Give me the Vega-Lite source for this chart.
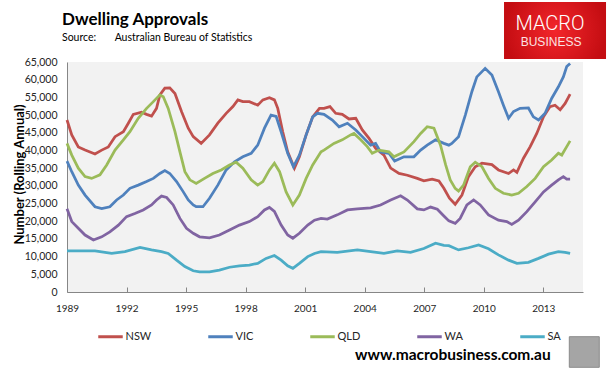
{
  "$schema": "https://vega.github.io/schema/vega-lite/v6.json",
  "width": 516,
  "height": 230,
  "autosize": {"type": "none"},
  "padding": {"left": 67, "top": 62, "right": 33, "bottom": 84},
  "background": "#ffffff",
  "config": {"view": {"fill": "#f2f2f2", "stroke": null}},
  "resolve": {"axis": {"x": "independent", "y": "independent"}},
  "title": {
    "text": "Dwelling Approvals",
    "subtitle": "Source:\u00a0\u00a0\u00a0\u00a0\u00a0\u00a0\u00a0Australian Bureau of Statistics",
    "anchor": "start",
    "frame": "group",
    "dx": -5,
    "offset": -42,
    "font": "Lato",
    "fontSize": 17,
    "fontWeight": "bold",
    "color": "#000000",
    "subtitleFont": "Lato",
    "subtitleFontSize": 10.5,
    "subtitleColor": "#000000",
    "subtitlePadding": 4
  },
  "datasets": {
    "approvals": [
      {"year":1989.00,"state":"NSW","value":48600},{"year":1989.24,"state":"NSW","value":44400},{"year":1989.57,"state":"NSW","value":41000},{"year":1989.91,"state":"NSW","value":40100},{"year":1990.41,"state":"NSW","value":39000},{"year":1990.75,"state":"NSW","value":40100},{"year":1991.08,"state":"NSW","value":41000},{"year":1991.42,"state":"NSW","value":43900},{"year":1991.84,"state":"NSW","value":45300},{"year":1992.09,"state":"NSW","value":47700},{"year":1992.34,"state":"NSW","value":50200},{"year":1992.76,"state":"NSW","value":50800},{"year":1993.01,"state":"NSW","value":50200},{"year":1993.26,"state":"NSW","value":49700},{"year":1993.51,"state":"NSW","value":51900},{"year":1993.68,"state":"NSW","value":55700},{"year":1993.93,"state":"NSW","value":57600},{"year":1994.18,"state":"NSW","value":57700},{"year":1994.44,"state":"NSW","value":56100},{"year":1994.77,"state":"NSW","value":51000},{"year":1995.11,"state":"NSW","value":46300},{"year":1995.36,"state":"NSW","value":43900},{"year":1995.76,"state":"NSW","value":42000},{"year":1996.18,"state":"NSW","value":44400},{"year":1996.60,"state":"NSW","value":47700},{"year":1997.02,"state":"NSW","value":50500},{"year":1997.36,"state":"NSW","value":52400},{"year":1997.61,"state":"NSW","value":54300},{"year":1997.86,"state":"NSW","value":53800},{"year":1998.19,"state":"NSW","value":53800},{"year":1998.61,"state":"NSW","value":52800},{"year":1998.87,"state":"NSW","value":54300},{"year":1999.20,"state":"NSW","value":54900},{"year":1999.45,"state":"NSW","value":54300},{"year":1999.62,"state":"NSW","value":51900},{"year":1999.87,"state":"NSW","value":45300},{"year":2000.12,"state":"NSW","value":39600},{"year":2000.46,"state":"NSW","value":35000},{"year":2000.71,"state":"NSW","value":38200},{"year":2001.05,"state":"NSW","value":44400},{"year":2001.38,"state":"NSW","value":49500},{"year":2001.72,"state":"NSW","value":51900},{"year":2001.95,"state":"NSW","value":51900},{"year":2002.25,"state":"NSW","value":52400},{"year":2002.54,"state":"NSW","value":50500},{"year":2002.87,"state":"NSW","value":50200},{"year":2003.21,"state":"NSW","value":48900},{"year":2003.55,"state":"NSW","value":49100},{"year":2003.88,"state":"NSW","value":45800},{"year":2004.22,"state":"NSW","value":43400},{"year":2004.55,"state":"NSW","value":40600},{"year":2004.97,"state":"NSW","value":38700},{"year":2005.31,"state":"NSW","value":35000},{"year":2005.73,"state":"NSW","value":33500},{"year":2006.15,"state":"NSW","value":33000},{"year":2006.65,"state":"NSW","value":32100},{"year":2006.98,"state":"NSW","value":31400},{"year":2007.40,"state":"NSW","value":31900},{"year":2007.74,"state":"NSW","value":31400},{"year":2007.99,"state":"NSW","value":29300},{"year":2008.27,"state":"NSW","value":26500},{"year":2008.56,"state":"NSW","value":24800},{"year":2008.90,"state":"NSW","value":27400},{"year":2009.23,"state":"NSW","value":32600},{"year":2009.57,"state":"NSW","value":35400},{"year":2009.91,"state":"NSW","value":36400},{"year":2010.41,"state":"NSW","value":36000},{"year":2010.74,"state":"NSW","value":34500},{"year":2011.25,"state":"NSW","value":33500},{"year":2011.50,"state":"NSW","value":34500},{"year":2011.67,"state":"NSW","value":33800},{"year":2012.00,"state":"NSW","value":37800},{"year":2012.34,"state":"NSW","value":41100},{"year":2012.67,"state":"NSW","value":44800},{"year":2013.01,"state":"NSW","value":49500},{"year":2013.34,"state":"NSW","value":52400},{"year":2013.59,"state":"NSW","value":52800},{"year":2013.85,"state":"NSW","value":51500},{"year":2014.10,"state":"NSW","value":53300},{"year":2014.35,"state":"NSW","value":55900},

      {"year":1989.00,"state":"VIC","value":37000},{"year":1989.24,"state":"VIC","value":34000},{"year":1989.57,"state":"VIC","value":30200},{"year":1989.91,"state":"VIC","value":27400},{"year":1990.41,"state":"VIC","value":24100},{"year":1990.75,"state":"VIC","value":23600},{"year":1991.16,"state":"VIC","value":24100},{"year":1991.50,"state":"VIC","value":26000},{"year":1991.84,"state":"VIC","value":27400},{"year":1992.17,"state":"VIC","value":29300},{"year":1992.59,"state":"VIC","value":30200},{"year":1993.01,"state":"VIC","value":31200},{"year":1993.35,"state":"VIC","value":32100},{"year":1993.68,"state":"VIC","value":33500},{"year":1993.93,"state":"VIC","value":34300},{"year":1994.18,"state":"VIC","value":33500},{"year":1994.52,"state":"VIC","value":31200},{"year":1994.86,"state":"VIC","value":28300},{"year":1995.11,"state":"VIC","value":26000},{"year":1995.36,"state":"VIC","value":24600},{"year":1995.51,"state":"VIC","value":24100},{"year":1995.85,"state":"VIC","value":24100},{"year":1996.18,"state":"VIC","value":26500},{"year":1996.60,"state":"VIC","value":30200},{"year":1997.02,"state":"VIC","value":34500},{"year":1997.44,"state":"VIC","value":36800},{"year":1997.86,"state":"VIC","value":38200},{"year":1998.28,"state":"VIC","value":39200},{"year":1998.61,"state":"VIC","value":41500},{"year":1998.95,"state":"VIC","value":46300},{"year":1999.28,"state":"VIC","value":50000},{"year":1999.54,"state":"VIC","value":49600},{"year":1999.79,"state":"VIC","value":45300},{"year":2000.12,"state":"VIC","value":39200},{"year":2000.41,"state":"VIC","value":35400},{"year":2000.71,"state":"VIC","value":38700},{"year":2001.05,"state":"VIC","value":44400},{"year":2001.38,"state":"VIC","value":49500},{"year":2001.62,"state":"VIC","value":50500},{"year":2001.95,"state":"VIC","value":50200},{"year":2002.37,"state":"VIC","value":48600},{"year":2002.71,"state":"VIC","value":46700},{"year":2003.13,"state":"VIC","value":47700},{"year":2003.55,"state":"VIC","value":45800},{"year":2003.88,"state":"VIC","value":43900},{"year":2004.30,"state":"VIC","value":41500},{"year":2004.55,"state":"VIC","value":42000},{"year":2004.80,"state":"VIC","value":39600},{"year":2005.22,"state":"VIC","value":39200},{"year":2005.51,"state":"VIC","value":37000},{"year":2005.98,"state":"VIC","value":38200},{"year":2006.48,"state":"VIC","value":38200},{"year":2006.82,"state":"VIC","value":40100},{"year":2007.15,"state":"VIC","value":41500},{"year":2007.57,"state":"VIC","value":43000},{"year":2007.99,"state":"VIC","value":42000},{"year":2008.24,"state":"VIC","value":41500},{"year":2008.39,"state":"VIC","value":42000},{"year":2008.73,"state":"VIC","value":43900},{"year":2009.07,"state":"VIC","value":50000},{"year":2009.40,"state":"VIC","value":56600},{"year":2009.65,"state":"VIC","value":60800},{"year":2010.07,"state":"VIC","value":63200},{"year":2010.41,"state":"VIC","value":61300},{"year":2010.74,"state":"VIC","value":56600},{"year":2010.99,"state":"VIC","value":52800},{"year":2011.25,"state":"VIC","value":49100},{"year":2011.50,"state":"VIC","value":51000},{"year":2011.83,"state":"VIC","value":51900},{"year":2012.25,"state":"VIC","value":52000},{"year":2012.50,"state":"VIC","value":49500},{"year":2012.76,"state":"VIC","value":48600},{"year":2013.09,"state":"VIC","value":50500},{"year":2013.42,"state":"VIC","value":54700},{"year":2013.76,"state":"VIC","value":58000},{"year":2014.01,"state":"VIC","value":60800},{"year":2014.18,"state":"VIC","value":63700},{"year":2014.35,"state":"VIC","value":64600},

      {"year":1989.00,"state":"QLD","value":42000},{"year":1989.24,"state":"QLD","value":38700},{"year":1989.57,"state":"QLD","value":35000},{"year":1989.91,"state":"QLD","value":32600},{"year":1990.24,"state":"QLD","value":32100},{"year":1990.66,"state":"QLD","value":33100},{"year":1991.00,"state":"QLD","value":35900},{"year":1991.42,"state":"QLD","value":40100},{"year":1991.84,"state":"QLD","value":43000},{"year":1992.17,"state":"QLD","value":45300},{"year":1992.59,"state":"QLD","value":49100},{"year":1993.01,"state":"QLD","value":51900},{"year":1993.35,"state":"QLD","value":53800},{"year":1993.68,"state":"QLD","value":55700},{"year":1993.85,"state":"QLD","value":55200},{"year":1994.10,"state":"QLD","value":51900},{"year":1994.44,"state":"QLD","value":45300},{"year":1994.69,"state":"QLD","value":39600},{"year":1994.94,"state":"QLD","value":34000},{"year":1995.19,"state":"QLD","value":31700},{"year":1995.51,"state":"QLD","value":30700},{"year":1995.93,"state":"QLD","value":32100},{"year":1996.35,"state":"QLD","value":33500},{"year":1996.77,"state":"QLD","value":34500},{"year":1997.19,"state":"QLD","value":35900},{"year":1997.52,"state":"QLD","value":36700},{"year":1997.86,"state":"QLD","value":35000},{"year":1998.28,"state":"QLD","value":31700},{"year":1998.61,"state":"QLD","value":30200},{"year":1998.87,"state":"QLD","value":31200},{"year":1999.20,"state":"QLD","value":34500},{"year":1999.45,"state":"QLD","value":36400},{"year":1999.71,"state":"QLD","value":34000},{"year":2000.04,"state":"QLD","value":28300},{"year":2000.38,"state":"QLD","value":24600},{"year":2000.71,"state":"QLD","value":27400},{"year":2001.05,"state":"QLD","value":32100},{"year":2001.38,"state":"QLD","value":35900},{"year":2001.80,"state":"QLD","value":39600},{"year":2001.95,"state":"QLD","value":40100},{"year":2002.45,"state":"QLD","value":42000},{"year":2002.87,"state":"QLD","value":43000},{"year":2003.29,"state":"QLD","value":44400},{"year":2003.46,"state":"QLD","value":44800},{"year":2003.80,"state":"QLD","value":43000},{"year":2004.13,"state":"QLD","value":41100},{"year":2004.38,"state":"QLD","value":39200},{"year":2004.72,"state":"QLD","value":40100},{"year":2005.22,"state":"QLD","value":39600},{"year":2005.47,"state":"QLD","value":38200},{"year":2005.98,"state":"QLD","value":39600},{"year":2006.48,"state":"QLD","value":42500},{"year":2006.82,"state":"QLD","value":44800},{"year":2007.15,"state":"QLD","value":46700},{"year":2007.49,"state":"QLD","value":46300},{"year":2007.82,"state":"QLD","value":41500},{"year":2008.08,"state":"QLD","value":35900},{"year":2008.31,"state":"QLD","value":31700},{"year":2008.56,"state":"QLD","value":29300},{"year":2008.73,"state":"QLD","value":28500},{"year":2008.98,"state":"QLD","value":30200},{"year":2009.32,"state":"QLD","value":35400},{"year":2009.57,"state":"QLD","value":36700},{"year":2009.91,"state":"QLD","value":35400},{"year":2010.24,"state":"QLD","value":32100},{"year":2010.58,"state":"QLD","value":29300},{"year":2010.99,"state":"QLD","value":27900},{"year":2011.41,"state":"QLD","value":27400},{"year":2011.75,"state":"QLD","value":27900},{"year":2012.17,"state":"QLD","value":29800},{"year":2012.59,"state":"QLD","value":32100},{"year":2013.01,"state":"QLD","value":35400},{"year":2013.42,"state":"QLD","value":37300},{"year":2013.76,"state":"QLD","value":39200},{"year":2013.93,"state":"QLD","value":38700},{"year":2014.18,"state":"QLD","value":41100},{"year":2014.35,"state":"QLD","value":42700},

      {"year":1989.00,"state":"WA","value":23500},{"year":1989.24,"state":"WA","value":19900},{"year":1989.57,"state":"WA","value":18000},{"year":1989.91,"state":"WA","value":16100},{"year":1990.33,"state":"WA","value":14700},{"year":1990.75,"state":"WA","value":15600},{"year":1991.16,"state":"WA","value":17000},{"year":1991.59,"state":"WA","value":18900},{"year":1992.00,"state":"WA","value":21300},{"year":1992.42,"state":"WA","value":22200},{"year":1992.84,"state":"WA","value":23200},{"year":1993.26,"state":"WA","value":24600},{"year":1993.51,"state":"WA","value":26000},{"year":1993.76,"state":"WA","value":27100},{"year":1994.02,"state":"WA","value":26700},{"year":1994.35,"state":"WA","value":24600},{"year":1994.69,"state":"WA","value":20800},{"year":1995.02,"state":"WA","value":18000},{"year":1995.36,"state":"WA","value":16600},{"year":1995.68,"state":"WA","value":15600},{"year":1996.18,"state":"WA","value":15300},{"year":1996.68,"state":"WA","value":16100},{"year":1997.19,"state":"WA","value":17500},{"year":1997.69,"state":"WA","value":18900},{"year":1998.19,"state":"WA","value":19900},{"year":1998.61,"state":"WA","value":21300},{"year":1998.95,"state":"WA","value":23200},{"year":1999.20,"state":"WA","value":23900},{"year":1999.45,"state":"WA","value":22800},{"year":1999.79,"state":"WA","value":18900},{"year":2000.12,"state":"WA","value":16100},{"year":2000.38,"state":"WA","value":15200},{"year":2000.71,"state":"WA","value":16600},{"year":2001.13,"state":"WA","value":18900},{"year":2001.47,"state":"WA","value":20300},{"year":2001.80,"state":"WA","value":20800},{"year":2002.12,"state":"WA","value":20600},{"year":2002.62,"state":"WA","value":21800},{"year":2003.13,"state":"WA","value":23200},{"year":2003.63,"state":"WA","value":23500},{"year":2004.30,"state":"WA","value":23800},{"year":2004.80,"state":"WA","value":24600},{"year":2005.31,"state":"WA","value":26000},{"year":2005.81,"state":"WA","value":27200},{"year":2006.15,"state":"WA","value":26000},{"year":2006.65,"state":"WA","value":23500},{"year":2006.98,"state":"WA","value":23200},{"year":2007.32,"state":"WA","value":24000},{"year":2007.66,"state":"WA","value":23400},{"year":2007.99,"state":"WA","value":21500},{"year":2008.24,"state":"WA","value":20100},{"year":2008.56,"state":"WA","value":19400},{"year":2008.81,"state":"WA","value":20800},{"year":2009.15,"state":"WA","value":24600},{"year":2009.49,"state":"WA","value":26000},{"year":2009.82,"state":"WA","value":24600},{"year":2010.24,"state":"WA","value":21800},{"year":2010.74,"state":"WA","value":20300},{"year":2011.16,"state":"WA","value":19900},{"year":2011.41,"state":"WA","value":19100},{"year":2011.75,"state":"WA","value":20300},{"year":2012.17,"state":"WA","value":22700},{"year":2012.59,"state":"WA","value":25500},{"year":2013.01,"state":"WA","value":28300},{"year":2013.42,"state":"WA","value":30200},{"year":2013.76,"state":"WA","value":31700},{"year":2014.01,"state":"WA","value":32600},{"year":2014.18,"state":"WA","value":31900},{"year":2014.35,"state":"WA","value":31900},

      {"year":1989.00,"state":"SA","value":11600},{"year":1990.41,"state":"SA","value":11600},{"year":1991.25,"state":"SA","value":10900},{"year":1991.92,"state":"SA","value":11400},{"year":1992.68,"state":"SA","value":12600},{"year":1993.26,"state":"SA","value":11900},{"year":1993.76,"state":"SA","value":11400},{"year":1994.10,"state":"SA","value":10900},{"year":1994.52,"state":"SA","value":9000},{"year":1994.94,"state":"SA","value":7200},{"year":1995.36,"state":"SA","value":6000},{"year":1995.68,"state":"SA","value":5700},{"year":1996.18,"state":"SA","value":5700},{"year":1996.68,"state":"SA","value":6200},{"year":1997.19,"state":"SA","value":7000},{"year":1997.69,"state":"SA","value":7400},{"year":1998.19,"state":"SA","value":7600},{"year":1998.61,"state":"SA","value":8100},{"year":1999.03,"state":"SA","value":9500},{"year":1999.45,"state":"SA","value":10300},{"year":1999.79,"state":"SA","value":9000},{"year":2000.12,"state":"SA","value":7400},{"year":2000.38,"state":"SA","value":6700},{"year":2000.71,"state":"SA","value":8100},{"year":2001.13,"state":"SA","value":10000},{"year":2001.47,"state":"SA","value":10900},{"year":2001.80,"state":"SA","value":11400},{"year":2002.62,"state":"SA","value":11200},{"year":2003.63,"state":"SA","value":11900},{"year":2004.30,"state":"SA","value":11400},{"year":2004.97,"state":"SA","value":10900},{"year":2005.64,"state":"SA","value":11600},{"year":2006.31,"state":"SA","value":11200},{"year":2006.98,"state":"SA","value":12300},{"year":2007.57,"state":"SA","value":13800},{"year":2007.99,"state":"SA","value":13200},{"year":2008.24,"state":"SA","value":13100},{"year":2008.73,"state":"SA","value":11900},{"year":2009.23,"state":"SA","value":12500},{"year":2009.74,"state":"SA","value":13300},{"year":2010.24,"state":"SA","value":12200},{"year":2010.74,"state":"SA","value":10500},{"year":2011.25,"state":"SA","value":9000},{"year":2011.67,"state":"SA","value":8100},{"year":2012.25,"state":"SA","value":8400},{"year":2012.76,"state":"SA","value":9500},{"year":2013.26,"state":"SA","value":10700},{"year":2013.76,"state":"SA","value":11400},{"year":2014.10,"state":"SA","value":11200},{"year":2014.35,"state":"SA","value":10900}
    ]
  },
  "layer": [
    {
      "data": {"name": "approvals"},
      "mark": {"type": "line", "strokeWidth": 2.75, "clip": false},
      "encoding": {
        "x": {
          "field": "year", "type": "quantitative",
          "scale": {"domain": [1989, 2015], "nice": false, "zero": false},
          "axis": {
            "values": [1989, 1992, 1995, 1998, 2001, 2004, 2007, 2010, 2013],
            "labelExpr": "format(datum.value, 'd')", "title": null, "grid": false, "labelFlush": false,
            "domainColor": "#868686", "tickColor": "#868686", "tickSize": -5, "labelPadding": 16,
            "labelFont": "Lato", "labelFontSize": 10, "labelColor": "#262626"
          }
        },
        "y": {
          "field": "value", "type": "quantitative",
          "scale": {"domain": [0, 65000], "nice": false},
          "axis": {
            "values": [0, 5000, 10000, 15000, 20000, 25000, 30000, 35000, 40000, 45000, 50000, 55000, 60000, 65000],
            "labelExpr": "format(datum.value, ',')", "title": "Number (Rolling Annual)", "grid": false, "ticks": false,
            "domainColor": "#868686", "labelPadding": 10,
            "labelFont": "Lato", "labelFontSize": 10.5, "labelColor": "#262626",
            "titleFont": "Lato", "titleFontSize": 13, "titleFontWeight": "bold", "titleColor": "#000000",
            "titleX": -41, "titleY": 112
          }
        },
        "color": {
          "field": "state", "type": "nominal",
          "scale": {"domain": ["NSW", "VIC", "QLD", "WA", "SA"], "range": ["#C0504D", "#4F81BD", "#9BBB59", "#8064A2", "#4BACC6"]},
          "legend": {
            "orient": "none", "legendX": 29.5, "legendY": 260.75, "direction": "horizontal", "title": null,
            "symbolType": "stroke", "symbolSize": 600, "symbolStrokeWidth": 3, "padding": 0,
            "labelFont": "Lato", "labelFontSize": 11, "labelColor": "#262626", "labelOffset": 1, "columnPadding": 50
          }
        }
      }
    },
    {
      "data": {"values": [{}]},
      "mark": {"type": "rect", "clip": false, "fill": {"gradient": "radial", "stops": [{"offset": 0, "color": "#f3262b"}, {"offset": 1, "color": "#c40d12"}]}},
      "encoding": {
        "x": {"datum": 2011.02, "type": "quantitative", "axis": null},
        "x2": {"datum": 2016.16},
        "y": {"datum": 81950, "type": "quantitative", "axis": null},
        "y2": {"datum": 65850}
      }
    },
    {
      "data": {"values": [{}]},
      "mark": {"type": "text", "clip": false, "text": "MACRO", "font": "Roboto", "fontSize": 20, "fontWeight": 300, "color": "#ffffff", "align": "center", "baseline": "middle"},
      "encoding": {
        "x": {"datum": 2013.34, "type": "quantitative", "axis": null},
        "y": {"datum": 75880, "type": "quantitative", "axis": null}
      }
    },
    {
      "data": {"values": [{}]},
      "mark": {"type": "text", "clip": false, "text": "BUSINESS", "font": "Liberation Sans", "fontSize": 12, "color": "#fbe3e3", "align": "center", "baseline": "middle"},
      "encoding": {
        "x": {"datum": 2013.39, "type": "quantitative", "axis": null},
        "y": {"datum": 70650, "type": "quantitative", "axis": null}
      }
    },
    {
      "data": {"values": [{}]},
      "mark": {"type": "text", "clip": false, "text": "www.macrobusiness.com.au", "font": "Lato", "fontSize": 15.5, "fontWeight": "bold", "color": "#000000", "align": "right", "baseline": "middle"},
      "encoding": {
        "x": {"datum": 2013.37, "type": "quantitative", "axis": null},
        "y": {"datum": -17800, "type": "quantitative", "axis": null}
      }
    },
    {
      "data": {"values": [{}]},
      "mark": {"type": "rect", "clip": false, "fill": "#a5a5a5", "stroke": "#8a8a8a", "strokeWidth": 1},
      "encoding": {
        "x": {"datum": 2014.31, "type": "quantitative", "axis": null},
        "x2": {"datum": 2015.82},
        "y": {"datum": -12630, "type": "quantitative", "axis": null},
        "y2": {"datum": -21280}
      }
    }
  ]
}
